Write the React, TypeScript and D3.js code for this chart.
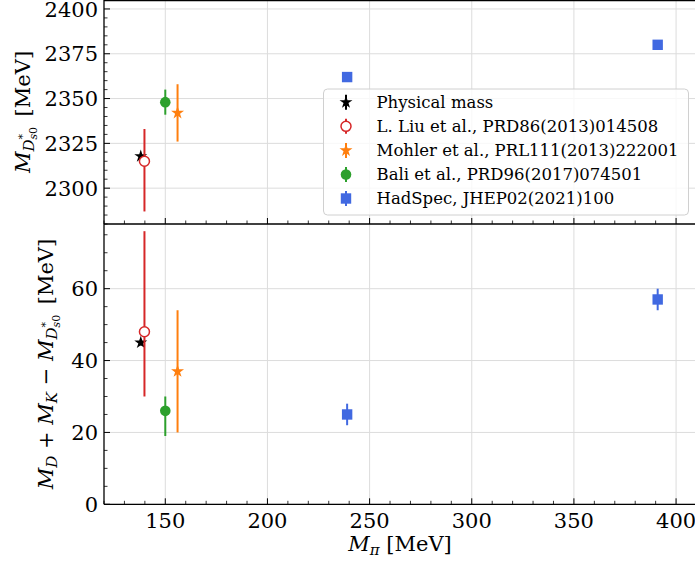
import React from "react";
import * as d3 from "d3";

// ---- data ----
const labels = [
  "Physical mass",
  "L. Liu et al., PRD86(2013)014508",
  "Mohler et al., PRL111(2013)222001",
  "Bali et al., PRD96(2017)074501",
  "HadSpec, JHEP02(2021)100",
];
const colors = ["#000000", "#d62728", "#ff7f0e", "#2ca02c", "#4169e1"];
const markers = ["star", "opencircle", "star", "circle", "square"];

// per series: pion masses, D*s0 mass (upper/lower errors), binding (upper/lower errors)
const mPi = [[138], [139.8], [156], [150], [239, 391]];
const massVal = [[2317.8], [2315], [2342], [2348], [2362, 2380]];
const massErrUp = [[0.6], [18], [16], [7], [1.5, 1.5]];
const massErrDn = [[0.6], [28], [16], [7], [1.5, 1.5]];
const bindVal = [[45], [48], [37], [26], [25, 57]];
const bindErrUp = [[0.8], [28], [17], [4], [3, 3]];
const bindErrDn = [[0.8], [18], [17], [7], [3, 3]];

const xTicks = [150, 200, 250, 300, 350, 400];
const topTicks = [2300, 2325, 2350, 2375, 2400];
const botTicks = [0, 20, 40, 60];

const W = 695, H = 565;
const L = 104, R = 696.5, T = 0, MID = 224, B = 504.3;
const FONT = "DejaVu Serif";

const x = d3.scaleLinear().domain([120, 410]).range([L, R]);
const yTop = d3.scaleLinear().domain([2280, 2405]).range([MID, T]);
const yBot = d3.scaleLinear().domain([0, 78]).range([B, MID]);

function Marker({ kind, cx, cy, color }: any) {
  if (kind === "star") {
    const p = d3.symbol().type(d3.symbolStar).size(52)();
    return <path d={p as string} transform={`translate(${cx},${cy})`} fill={color} />;
  }
  if (kind === "opencircle")
    return <circle cx={cx} cy={cy} r={5} fill="white" stroke={color} strokeWidth={1.5} />;
  if (kind === "circle") return <circle cx={cx} cy={cy} r={5.3} fill={color} />;
  return <rect x={cx - 5.2} y={cy - 5.2} width={10.4} height={10.4} fill={color} />;
}

function Panel({ y, vals, up, dn, ticks, minorStep }: any) {
  const [d0, d1] = y.domain();
  const minors = d3.range(Math.ceil(d0 / minorStep) * minorStep, d1 + 1e-9, minorStep)
    .filter((v: number) => !ticks.includes(v));
  const xMinor = d3.range(120, 411, 10).filter((v) => !xTicks.includes(v));
  const [r0, r1] = y.range();
  return (
    <g>
      {xTicks.map((t) => (
        <line key={"gx" + t} x1={x(t)} x2={x(t)} y1={r1} y2={r0} stroke="#dcdcdc" strokeWidth={1} />
      ))}
      {ticks.map((t: number) => (
        <line key={"gy" + t} x1={L} x2={R} y1={y(t)} y2={y(t)} stroke="#dcdcdc" strokeWidth={1} />
      ))}
      {ticks.map((t: number) => (
        <g key={"ty" + t}>
          <line x1={L} x2={L + 6} y1={y(t)} y2={y(t)} stroke="#000" strokeWidth={1} />
          <text x={L - 6} y={y(t)} dy="0.36em" textAnchor="end" fontSize={21} fontFamily={FONT}>{t}</text>
        </g>
      ))}
      {minors.map((t: number) => (
        <line key={"my" + t} x1={L} x2={L + 3.5} y1={y(t)} y2={y(t)} stroke="#000" strokeWidth={0.8} />
      ))}
      {xTicks.map((t) => (
        <line key={"tx" + t} x1={x(t)} x2={x(t)} y1={r0} y2={r0 - 6} stroke="#000" strokeWidth={1} />
      ))}
      {xMinor.map((t) => (
        <line key={"mx" + t} x1={x(t)} x2={x(t)} y1={r0} y2={r0 - 3.5} stroke="#000" strokeWidth={0.8} />
      ))}
      {mPi.map((xs, i) => (
        <g key={"s" + i}>
          {xs.map((mx, j) => (
            <g key={j}>
              <line x1={x(mx)} x2={x(mx)} y1={y(vals[i][j] + up[i][j])} y2={y(vals[i][j] - dn[i][j])}
                stroke={colors[i]} strokeWidth={2} />
              <Marker kind={markers[i]} cx={x(mx)} cy={y(vals[i][j])} color={colors[i]} />
            </g>
          ))}
        </g>
      ))}
    </g>
  );
}

export default function App() {
  const legX = 323.5, legY = 89, legW = 365, legH = 126;
  return (
    <svg width={W} height={H} style={{ display: "block", position: "absolute", left: 0, top: 0 }}>
      <rect width={W} height={H} fill="white" />
      <Panel y={yTop} vals={massVal} up={massErrUp} dn={massErrDn} ticks={topTicks} minorStep={5} />
      <Panel y={yBot} vals={bindVal} up={bindErrUp} dn={bindErrDn} ticks={botTicks} minorStep={5} />
      {xTicks.map((t) => (
        <text key={"xl" + t} x={x(t)} y={527.5} textAnchor="middle" fontSize={21} fontFamily={FONT}>{t}</text>
      ))}
      <line x1={L} x2={R} y1={0.6} y2={0.6} stroke="#000" strokeWidth={1.3} />
      <line x1={L} x2={R} y1={MID} y2={MID} stroke="#000" strokeWidth={1.3} />
      <line x1={L} x2={R} y1={B} y2={B} stroke="#000" strokeWidth={1.3} />
      <line x1={L} x2={L} y1={0} y2={B} stroke="#000" strokeWidth={1.3} />
      <rect x={legX} y={legY} width={legW} height={legH} rx={4} fill="white" fillOpacity={0.8} stroke="#d0d0d0" strokeWidth={1} />
      {labels.map((lab, i) => {
        const cy = 102.3 + i * 24.05;
        return (
          <g key={"lg" + i}>
            <line x1={346} x2={346} y1={cy - 7.5} y2={cy + 7.5} stroke={colors[i]} strokeWidth={2} />
            <Marker kind={markers[i]} cx={346} cy={cy} color={colors[i]} />
            <text x={376.5} y={cy} dy="0.36em" fontSize={16.5} fontFamily={FONT}>{lab}</text>
          </g>
        );
      })}
      <text x={400} y={551} textAnchor="middle" fontSize={21} fontFamily={FONT}>
        <tspan fontStyle="italic">M</tspan>
        <tspan fontStyle="italic" fontSize={15} dy={4}>π</tspan>
        <tspan dy={-4}> [MeV]</tspan>
      </text>
      <text transform={`translate(30,112) rotate(-90)`} textAnchor="middle" fontSize={21} fontFamily={FONT}>
        <tspan fontStyle="italic">M</tspan>
        <tspan fontStyle="italic" fontSize={15} dy={4}>D</tspan>
        <tspan fontSize={11} dy={-8}>*</tspan>
        <tspan fontStyle="italic" fontSize={11} dx={-5.5} dy={11}>s</tspan>
        <tspan fontSize={11}>0</tspan>
        <tspan dy={-7}>{"\u2002[MeV]"}</tspan>
      </text>
      <text transform={`translate(53,364) rotate(-90)`} textAnchor="middle" fontSize={21} fontFamily={FONT}>
        <tspan fontStyle="italic">M</tspan>
        <tspan fontStyle="italic" fontSize={15} dy={4}>D</tspan>
        <tspan dy={-4}> + </tspan>
        <tspan fontStyle="italic">M</tspan>
        <tspan fontStyle="italic" fontSize={15} dy={4}>K</tspan>
        <tspan dy={-4}> − </tspan>
        <tspan fontStyle="italic">M</tspan>
        <tspan fontStyle="italic" fontSize={15} dy={4}>D</tspan>
        <tspan fontSize={11} dy={-8}>*</tspan>
        <tspan fontStyle="italic" fontSize={11} dx={-5.5} dy={11}>s</tspan>
        <tspan fontSize={11}>0</tspan>
        <tspan dy={-7}>{"\u2002[MeV]"}</tspan>
      </text>
    </svg>
  );
}
